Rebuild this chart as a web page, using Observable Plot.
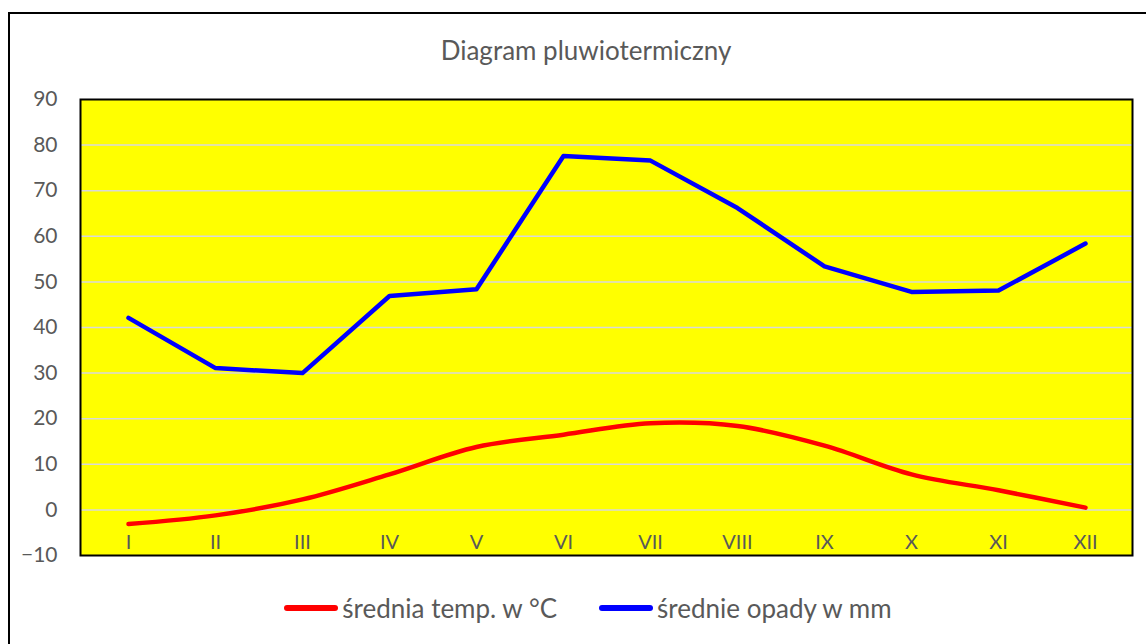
<!DOCTYPE html>
<html>
<head>
<meta charset="utf-8">
<script src="https://cdn.jsdelivr.net/npm/d3@7"></script>
<script src="https://cdn.jsdelivr.net/npm/@observablehq/plot@0.6"></script>
<style>
  html, body { margin: 0; padding: 0; background: #fff; width: 1146px; height: 644px; overflow: hidden; }
  #wrap { position: relative; width: 1146px; height: 644px; font-family: Lato, "Open Sans", sans-serif; }
  #border { position: absolute; left: 8px; top: 12px; width: 1200px; height: 700px; border-left: 2px solid #000; border-top: 2px solid #000; }
  #title { position: absolute; top: 34px; left: 0; width: 1172px; text-align: center; font-size: 26px; line-height: 32px; color: #595959; }
  #chart { position: absolute; left: 0; top: 0; }
  #legend { position: absolute; top: 592px; left: 0; width: 1176px; display: flex; justify-content: center; gap: 42px; font-size: 26px; line-height: 32px; color: #595959; }
  .item { display: flex; align-items: center; }
  .sw { width: 54px; height: 6px; border-radius: 3px; margin-right: 4px; }
</style>
</head>
<body>
<div id="wrap">
  <div id="border"></div>
  <div id="chart"></div>
  <div id="title">Diagram pluwiotermiczny</div>
  <div id="legend"></div>
</div>
<script>
const months = ["I","II","III","IV","V","VI","VII","VIII","IX","X","XI","XII"];
const temperature = [-3.1, -1.2, 2.3, 7.8, 13.8, 16.5, 19.0, 18.4, 14.1, 7.8, 4.3, 0.5];
const precipitation = [42.1, 31.1, 30.0, 46.9, 48.4, 77.6, 76.6, 66.2, 53.4, 47.8, 48.1, 58.4];
const yTicks = [-10, 0, 10, 20, 30, 40, 50, 60, 70, 80, 90];
const seriesNames = ["średnia temp. w °C", "średnie opady w mm"];
const seriesColors = ["#ff0000", "#0000ff"];

const tempData = months.map((m, i) => ({month: m, value: temperature[i]}));
const precData = months.map((m, i) => ({month: m, value: precipitation[i]}));

const plot = Plot.plot({
  width: 1146,
  height: 644,
  marginLeft: 80,
  marginRight: 14,
  marginTop: 99,
  marginBottom: 89,
  style: {fontFamily: "Lato, 'Open Sans', sans-serif", background: "transparent", overflow: "visible"},
  x: {type: "point", domain: months, padding: 0.5},
  y: {domain: [-10, 90]},
  marks: [
    Plot.frame({fill: "#ffff00"}),
    Plot.gridY(yTicks.filter(t => t > -10 && t < 90), {stroke: "#d9d9d9", strokeOpacity: 1, strokeWidth: 1.5}),
    Plot.axisY({ticks: yTicks, tickSize: 0, tickPadding: 23, fontSize: 21, fill: "#595959", label: null}),
    Plot.axisX({anchor: "bottom", tickSize: 0, tickPadding: 0, dy: -21, fontSize: 20, fill: "#595959", label: null}),
    Plot.lineY(tempData, {x: "month", y: "value", stroke: seriesColors[0], strokeWidth: 4.5, curve: "catmull-rom"}),
    Plot.lineY(precData, {x: "month", y: "value", stroke: seriesColors[1], strokeWidth: 4.5}),
    Plot.frame({stroke: "#000", strokeWidth: 2})
  ]
});
document.getElementById("chart").appendChild(plot);

const legend = document.getElementById("legend");
seriesNames.forEach((name, i) => {
  const it = document.createElement("div");
  it.className = "item";
  const sw = document.createElement("div");
  sw.className = "sw";
  sw.style.background = seriesColors[i];
  const t = document.createElement("span");
  t.textContent = name;
  it.appendChild(sw); it.appendChild(t);
  legend.appendChild(it);
});
</script>
</body>
</html>
